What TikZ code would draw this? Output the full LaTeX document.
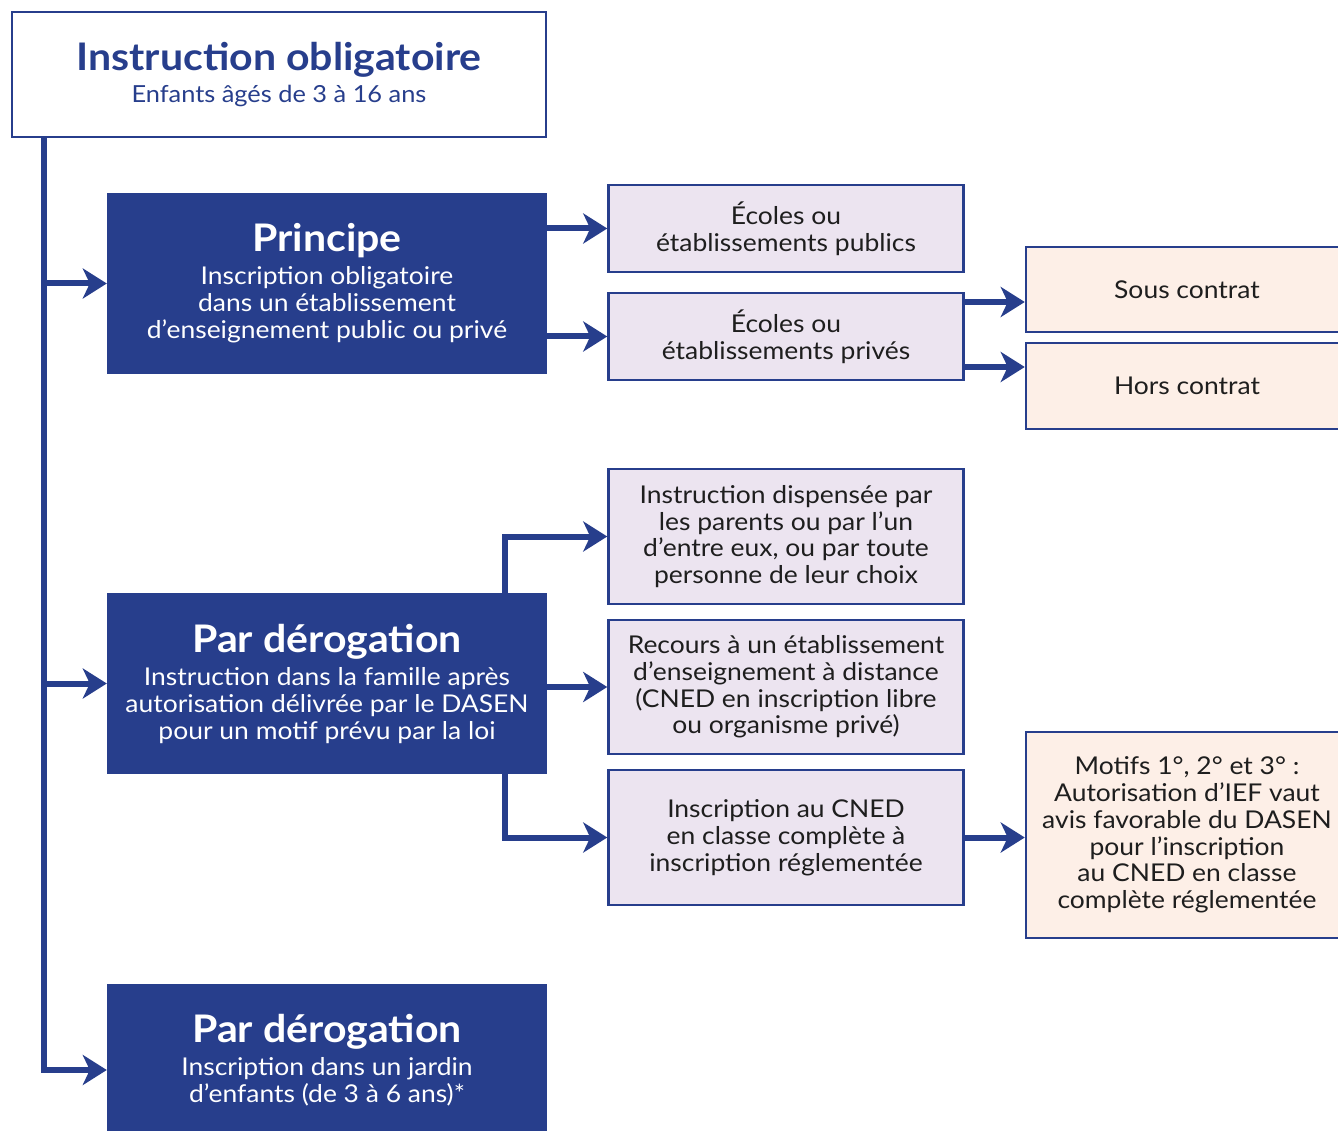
\documentclass[tikz,border=0pt]{standalone}
\usepackage{fontspec}
\setmainfont{Lato}[FakeStretch=1.08]
\usetikzlibrary{arrows.meta,calc}
\definecolor{bf}{RGB}{39,62,140}
\definecolor{lav}{RGB}{236,228,240}
\definecolor{peach}{RGB}{253,239,231}
\definecolor{txt}{RGB}{30,30,30}
\newcommand\boxtitle[1]{{\fontsize{38}{38}\selectfont\bfseries #1}\\[6pt]}
\tikzset{
  lower/.style={execute at begin node=\vspace*{5pt}},
  hbox/.style={lower, fill=bf, text=white, minimum width=440, minimum height=181, inner sep=0,
    align=center, font=\fontsize{24.5}{27}\selectfont},
  lbox/.style={lower, fill=lav, draw=bf, line width=2.5pt, text=txt, minimum width=355, inner sep=0,
    align=center, font=\fontsize{24.5}{26.8}\selectfont},
  pbox/.style={lbox, fill=peach, minimum width=322},
  conn/.style={draw=bf, line width=6pt},
  arr/.style={conn, -{Stealth[length=24pt,width=30pt,inset=7pt]}}
}
\begin{document}
\begin{tikzpicture}[x=1pt,y=-1pt]
\useasboundingbox (0,0) rectangle (1338,1131);
\clip (0,0) rectangle (1338,1131);
\fill[white] (0,0) rectangle (1338,1131);

\node[lower, draw=bf, fill=white, line width=2.5pt, text=bf, minimum width=534, minimum height=125,
  inner sep=0, align=center, font=\fontsize{23.5}{26}\selectfont] (top) at (279,74.5)
  {\boxtitle{Instruction obligatoire}Enfants âgés de 3 à 16 ans};

\node[hbox] (princ) at (327,283.5)
  {\boxtitle{Principe}Inscription obligatoire\\dans un établissement\\d’enseignement public ou privé};
\node[hbox] (derog) at (327,683.5)
  {\boxtitle{Par dérogation}Instruction dans la famille après\\autorisation délivrée par le DASEN\\pour un motif prévu par la loi};
\node[hbox, minimum height=152] (jard) at (327,1060)
  {\boxtitle{Par dérogation}Inscription dans un jardin\\d’enfants (de 3 à 6 ans)*};

\node[lbox, minimum height=87] (pub) at (786,228.5) {Écoles ou\\établissements publics};
\node[lbox, minimum height=87] (priv) at (786,336.5) {Écoles ou\\établissements privés};
\node[pbox, minimum height=85] (sous) at (1187,289.5) {Sous contrat};
\node[pbox, minimum height=86] (hors) at (1187,386) {Hors contrat};

\node[lbox, minimum height=135] (inst) at (786,536.5)
  {Instruction dispensée par\\les parents ou par l’un\\d’entre eux, ou par toute\\personne de leur choix};
\node[lbox, minimum height=134] (reco) at (786,687)
  {Recours à un établissement\\d’enseignement à distance\\(CNED en inscription libre\\ou organisme privé)};
\node[lbox, minimum height=135] (cned) at (786,837.5)
  {Inscription au CNED\\en classe complète à\\inscription réglementée};
\node[pbox, minimum height=206] (motifs) at (1187,835)
  {Motifs 1°, 2° et 3° :\\Autorisation d’IEF vaut\\avis favorable du DASEN\\pour l’inscription\\au CNED en classe\\complète réglementée};

% trunk
\coordinate (t0) at ([xshift=33pt]top.south west);
\coordinate (tj) at ([yshift=-10pt]jard.west);
\draw[arr] (t0) |- (tj);
\draw[arr] (t0 |- princ.west) -- (princ.west);
\draw[arr] (t0 |- derog.west) -- (derog.west);

% principe
\draw[arr] (princ.east |- pub.west) -- (pub.west);
\draw[arr] (princ.east |- priv.west) -- (priv.west);
\coordinate (p1) at ([yshift=34.5pt]priv.east);
\coordinate (p2) at ([yshift=-30.5pt]priv.east);
\draw[arr] (p1) -- (p1 -| sous.west);
\draw[arr] (p2) -- (p2 -| hors.west);

% derogation
\coordinate (d1) at ([xshift=-42pt]derog.north east);
\coordinate (d2) at ([xshift=-42pt]derog.south east);
\draw[arr] (d1) |- (inst.west);
\draw[arr] (derog.east |- reco.west) -- (reco.west);
\draw[arr] (d2) |- (cned.west);
\draw[arr] (cned.east) -- (cned.east -| motifs.west);
\end{tikzpicture}
\end{document}
